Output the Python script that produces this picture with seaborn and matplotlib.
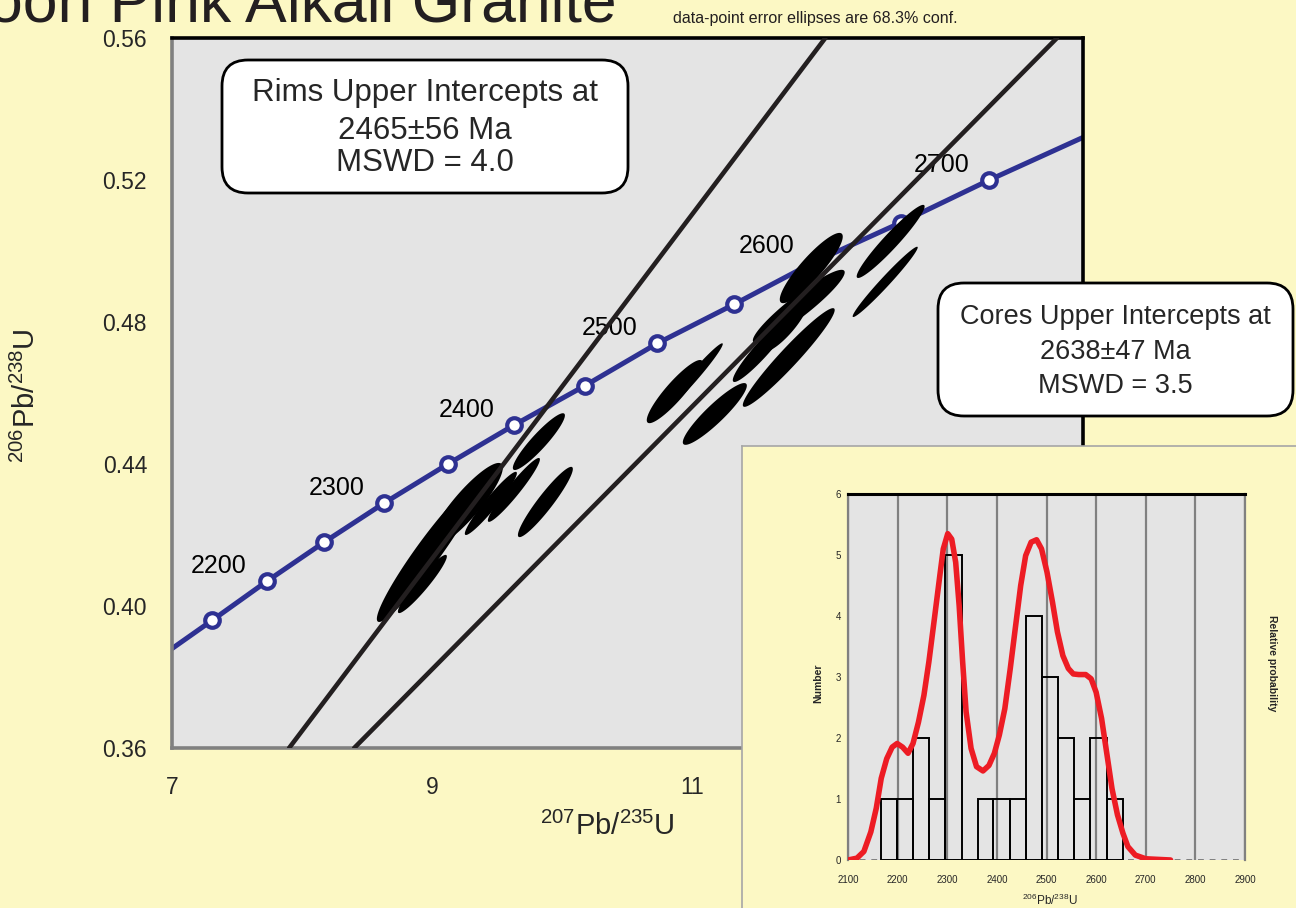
import numpy as np
import matplotlib
matplotlib.use('Agg')
import matplotlib.pyplot as plt
from matplotlib.patches import FancyBboxPatch
from matplotlib.transforms import IdentityTransform
import seaborn as sns

# ---- concordia (points every 50 Ma) ----
conc_age = [2150, 2200, 2250, 2300, 2350, 2400, 2450, 2500, 2550, 2600, 2650, 2700]
conc_x = [7.31, 7.73, 8.17, 8.63, 9.12, 9.63, 10.17, 10.73, 11.32, 11.94, 12.60, 13.28]
conc_y = [0.396, 0.407, 0.418, 0.429, 0.440, 0.451, 0.462, 0.474, 0.485, 0.497, 0.508, 0.520]
# curve runs on to the frame at both ends
curve_x = [7.0] + conc_x + [14.0]
curve_y = [0.388] + conc_y + [0.532]
label_ages = [2200, 2300, 2400, 2500, 2600, 2700]

# ---- discordia chords (ends where they meet the frame) ----
rim_line_x = [7.90, 12.02]
rim_line_y = [0.36, 0.56]
core_line_x = [8.40, 13.80]
core_line_y = [0.36, 0.56]

# ---- error ellipses: centre, half extent in x / y, error correlation ----
ell_x = [8.970, 9.262, 8.924, 9.450, 9.627, 9.819, 9.869,
         10.863, 11.009, 11.171, 11.539, 11.739, 11.816, 11.912, 11.708, 12.522, 12.480]
ell_y = [0.4152, 0.4285, 0.4062, 0.4289, 0.4327, 0.4463, 0.4293,
         0.4604, 0.4646, 0.4541, 0.4725, 0.4700, 0.4844, 0.4952, 0.4789, 0.5027, 0.4913]
ell_sx = [0.396, 0.280, 0.188, 0.200, 0.200, 0.200, 0.211,
          0.215, 0.223, 0.246, 0.230, 0.353, 0.353, 0.242, 0.177, 0.261, 0.250]
ell_sy = [0.0197, 0.0118, 0.0082, 0.0089, 0.0090, 0.0080, 0.0099,
          0.0089, 0.0094, 0.0087, 0.0094, 0.0139, 0.0103, 0.0099, 0.0073, 0.0103, 0.0099]
ell_rho = [0.955, 0.885, 0.947, 0.955, 0.955, 0.922, 0.938,
           0.903, 0.978, 0.915, 0.943, 0.962, 0.931, 0.893, 0.854, 0.955, 0.980]

# ---- inset: histogram of ages + relative probability curve ----
bin_edges = [2166, 2198, 2231, 2264, 2296, 2329, 2361, 2393, 2426, 2458,
             2491, 2523, 2556, 2588, 2621, 2654]
bin_counts = [1, 1, 2, 1, 5, 0, 1, 1, 1, 4, 3, 2, 1, 2, 1]
prob_x = [2100, 2118, 2132, 2146, 2157, 2167, 2178, 2189, 2199, 2210, 2221, 2231, 2242,
          2253, 2263, 2274, 2285, 2292, 2301, 2309, 2317, 2324, 2331, 2338, 2348, 2359,
          2372, 2384, 2395, 2405, 2416, 2427, 2437, 2448, 2458, 2469, 2480, 2490, 2501,
          2512, 2522, 2533, 2544, 2554, 2565, 2579, 2590, 2600, 2611, 2622, 2632, 2643,
          2654, 2664, 2679, 2700, 2750]
prob_y = [0.00, 0.03, 0.14, 0.46, 0.85, 1.34, 1.66, 1.85, 1.91, 1.85, 1.75, 1.91, 2.26,
          2.70, 3.25, 3.95, 4.66, 5.10, 5.35, 5.26, 4.88, 4.17, 3.25, 2.43, 1.83, 1.53,
          1.46, 1.55, 1.75, 2.05, 2.48, 3.14, 3.79, 4.50, 4.99, 5.21, 5.25, 5.10, 4.72,
          4.23, 3.74, 3.35, 3.14, 3.05, 3.04, 3.04, 2.97, 2.75, 2.32, 1.72, 1.17, 0.74,
          0.44, 0.22, 0.08, 0.02, 0.00]

BG = '#FCF8C4'
PANEL = '#E4E4E4'
NAVY = '#2E3192'
INK = '#231F20'
W, H = 1296, 908

sns.set_style('white')
plt.rcParams['font.family'] = ['Liberation Sans', 'DejaVu Sans']
plt.rcParams['mathtext.fontset'] = 'custom'
plt.rcParams['mathtext.rm'] = 'Liberation Sans'
plt.rcParams['mathtext.it'] = 'Liberation Sans:italic'
plt.rcParams['mathtext.bf'] = 'Liberation Sans:bold'


def frac(x0, y0, x1, y1):
    # pixel box measured from the top-left -> figure fraction rect
    return [x0 / W, 1 - y1 / H, (x1 - x0) / W, (y1 - y0) / H]


fig = plt.figure(figsize=(W / 100, H / 100), dpi=100)
fig.patch.set_facecolor(BG)

# ================= main concordia plot =================
ax = fig.add_axes(frac(172, 38, 1083, 748))
ax.set_facecolor(PANEL)
ax.set_xlim(7, 14)
ax.set_ylim(0.36, 0.56)

sns.lineplot(x=curve_x, y=curve_y, ax=ax, color=NAVY, linewidth=3.6,
             sort=False, estimator=None, zorder=2)
sns.scatterplot(x=conc_x, y=conc_y, ax=ax, s=110, color='white',
                edgecolor=NAVY, linewidth=3, zorder=2.5)
for age, x, y in zip(conc_age, conc_x, conc_y):
    if age in label_ages:
        ax.annotate(str(age), (x, y), xytext=(-34.5, 11), textcoords='offset points',
                    ha='center', va='center', fontsize=18, color='black', zorder=2.6)

t = np.linspace(0, 2 * np.pi, 160)
for cx, cy, sx, sy, r in zip(ell_x, ell_y, ell_sx, ell_sy, ell_rho):
    ex = cx + sx * np.cos(t)
    ey = cy + sy * (r * np.cos(t) + np.sqrt(1 - r ** 2) * np.sin(t))
    ax.fill(ex, ey, color='black', lw=0, zorder=3)

sns.lineplot(x=rim_line_x, y=rim_line_y, ax=ax, color=INK, linewidth=3.3, zorder=4)
sns.lineplot(x=core_line_x, y=core_line_y, ax=ax, color=INK, linewidth=3.3, zorder=4)

ax.set_xticks([7, 9, 11, 13])
ax.set_xticks([8, 10, 12], minor=True)
ax.set_yticks([0.36, 0.40, 0.44, 0.48, 0.52, 0.56])
ax.set_yticks([0.38, 0.42, 0.46, 0.50, 0.54], minor=True)
ax.set_yticklabels(['0.36', '0.40', '0.44', '0.48', '0.52', '0.56'])
ax.tick_params(which='both', direction='in', length=5, width=1.6, color='#808080',
               labelsize=16.5)
ax.tick_params(axis='x', pad=20)
ax.tick_params(axis='y', pad=18)
ax.set_xlabel('')
ax.set_ylabel('')
for side, col in [('left', '#808080'), ('bottom', '#808080'), ('top', 'black'), ('right', 'black')]:
    ax.spines[side].set_color(col)
    ax.spines[side].set_linewidth(2.6)

fig.text(26 / W, 1 - 396 / H, r'$^{206}$Pb/$^{238}$U', rotation=90, fontsize=21,
         ha='center', va='center')
fig.text(607 / W, 1 - 826 / H, r'$^{207}$Pb/$^{235}$U', fontsize=21,
         ha='center', va='center')

# title (runs off the top-left corner) and note
fig.text(-12 / W, 1 - 21 / H, 'oon Pink Alkali Granite', fontsize=45,
         ha='left', va='baseline', color=INK)
fig.text(673 / W, 1 - 18 / H, 'data-point error ellipses are 68.3% conf.',
         fontsize=11.5, ha='left', va='center', color=INK)

# result boxes
for (x0, y0, x1, y1), lines, ys, fs in [
        ((222, 60, 628, 193), ['Rims Upper Intercepts at', '2465\u00b156 Ma', 'MSWD = 4.0'],
         [93, 131, 163], 22.5),
        ((938, 283, 1293, 416), ['Cores Upper Intercepts at', '2638\u00b147 Ma', 'MSWD = 3.5'],
         [317, 352, 386], 19.5)]:
    box = FancyBboxPatch((x0, H - y1), x1 - x0, y1 - y0,
                         boxstyle='round,pad=0,rounding_size=26',
                         transform=IdentityTransform(), facecolor='white',
                         edgecolor='black', linewidth=2, zorder=3)
    fig.add_artist(box)
    for txt, yy in zip(lines, ys):
        fig.text((x0 + x1) / 2 / W, 1 - yy / H, txt, fontsize=fs, ha='center',
                 va='center', zorder=4)

# ================= inset histogram =================
panel = fig.add_axes(frac(742, 446, 1300, 912), zorder=5)
panel.set_facecolor(BG)
panel.set_xticks([])
panel.set_yticks([])
for side in ['right', 'bottom']:
    panel.spines[side].set_visible(False)
for side in ['top', 'left']:
    panel.spines[side].set_color('#A6A6A6')
    panel.spines[side].set_linewidth(1.2)

axi = fig.add_axes(frac(848, 494, 1245, 860), zorder=6)
axi.set_facecolor(PANEL)
mids = [(a + b) / 2 for a, b in zip(bin_edges[:-1], bin_edges[1:])]
sns.histplot(x=mids, weights=bin_counts, bins=bin_edges, fill=False, color='black',
             linewidth=1.4, ax=axi, zorder=3)
sns.lineplot(x=prob_x, y=prob_y, ax=axi, color='#ED1C24', linewidth=4,
             sort=False, estimator=None, zorder=4)
axi.axhline(0, color='#808080', lw=1.4, ls=(0, (3, 3)), zorder=2)
axi.set_xlim(2100, 2900)
axi.set_ylim(0, 6)
axi.set_xticks(range(2100, 3000, 100))
axi.set_yticks(range(0, 7))
axi.grid(axis='x', color='#808080', linewidth=1.6)
axi.grid(axis='y', visible=False)
axi.set_axisbelow(True)
axi.tick_params(direction='in', length=3, width=1.2, color='#808080', labelsize=7)
axi.tick_params(axis='x', pad=11)
axi.tick_params(axis='y', pad=5)
axi.set_xlabel('')
axi.set_ylabel('')
axi.spines['top'].set_color('black')
axi.spines['top'].set_linewidth(2.2)
for side in ['left', 'right']:
    axi.spines[side].set_color('#808080')
    axi.spines[side].set_linewidth(1.6)
axi.spines['bottom'].set_visible(False)

fig.text(818 / W, 1 - 683 / H, 'Number', rotation=90, fontsize=7.5, fontweight='bold',
         ha='center', va='center', zorder=7)
fig.text(1272 / W, 1 - 663 / H, 'Relative probability', rotation=270, fontsize=7.5,
         fontweight='bold', ha='center', va='center', zorder=7)
fig.text(1050 / W, 1 - 900 / H, r'$^{206}$Pb/$^{238}$U', fontsize=8.5,
         ha='center', va='center', zorder=7)

fig.savefig('out.png', dpi=100, facecolor=BG)
